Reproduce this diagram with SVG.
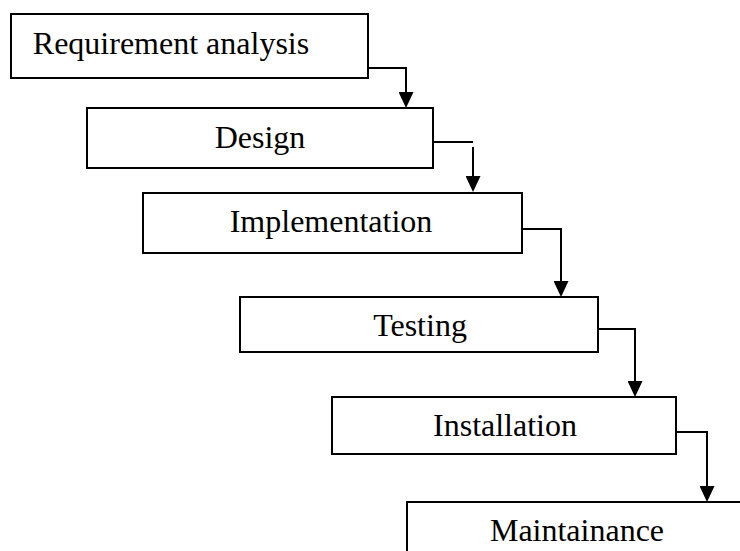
<svg xmlns="http://www.w3.org/2000/svg" width="740" height="551" viewBox="0 0 740 551">
<style>
.box{fill:#fff;stroke:#000;stroke-width:2}
.lbl{font-family:"Liberation Serif","Times New Roman",serif;font-size:32px;fill:#000;text-anchor:middle}
.con{fill:none;stroke:#000;stroke-width:2}
</style>
<defs>
<marker id="ah" viewBox="0 0 16 15" refX="10" refY="7.5" markerWidth="16" markerHeight="15" markerUnits="userSpaceOnUse" orient="auto">
<path d="M0,0 L16,7.5 L0,15 z" fill="#000"/>
</marker>
</defs>
<rect width="740" height="551" fill="#fff"/>
<g id="n1"><rect class="box" x="11" y="14" width="357" height="64"/><text class="lbl" x="171" y="54">Requirement analysis</text></g>
<g id="n2"><rect class="box" x="87" y="108" width="346" height="60"/><text class="lbl" x="260" y="148">Design</text></g>
<g id="n3"><rect class="box" x="143" y="193" width="379" height="60"/><text class="lbl" x="331" y="232">Implementation</text></g>
<g id="n4"><rect class="box" x="240" y="297" width="358" height="55"/><text class="lbl" x="420" y="336">Testing</text></g>
<g id="n5"><rect class="box" x="332" y="397" width="344" height="57"/><text class="lbl" x="505" y="436">Installation</text></g>
<g id="n6"><rect class="box" x="407" y="502" width="345" height="60"/><text class="lbl" x="577" y="541">Maintainance</text></g>
<g id="connectors">
<path class="con" d="M368,68 H406 V102" marker-end="url(#ah)"/>
<path class="con" d="M433,142 H473"/>
<path class="con" d="M473,147 V186" marker-end="url(#ah)"/>
<path class="con" d="M522,229 H561 V291" marker-end="url(#ah)"/>
<path class="con" d="M597,329 H635 V391" marker-end="url(#ah)"/>
<path class="con" d="M676,432 H707 V496" marker-end="url(#ah)"/>
</g>
</svg>
